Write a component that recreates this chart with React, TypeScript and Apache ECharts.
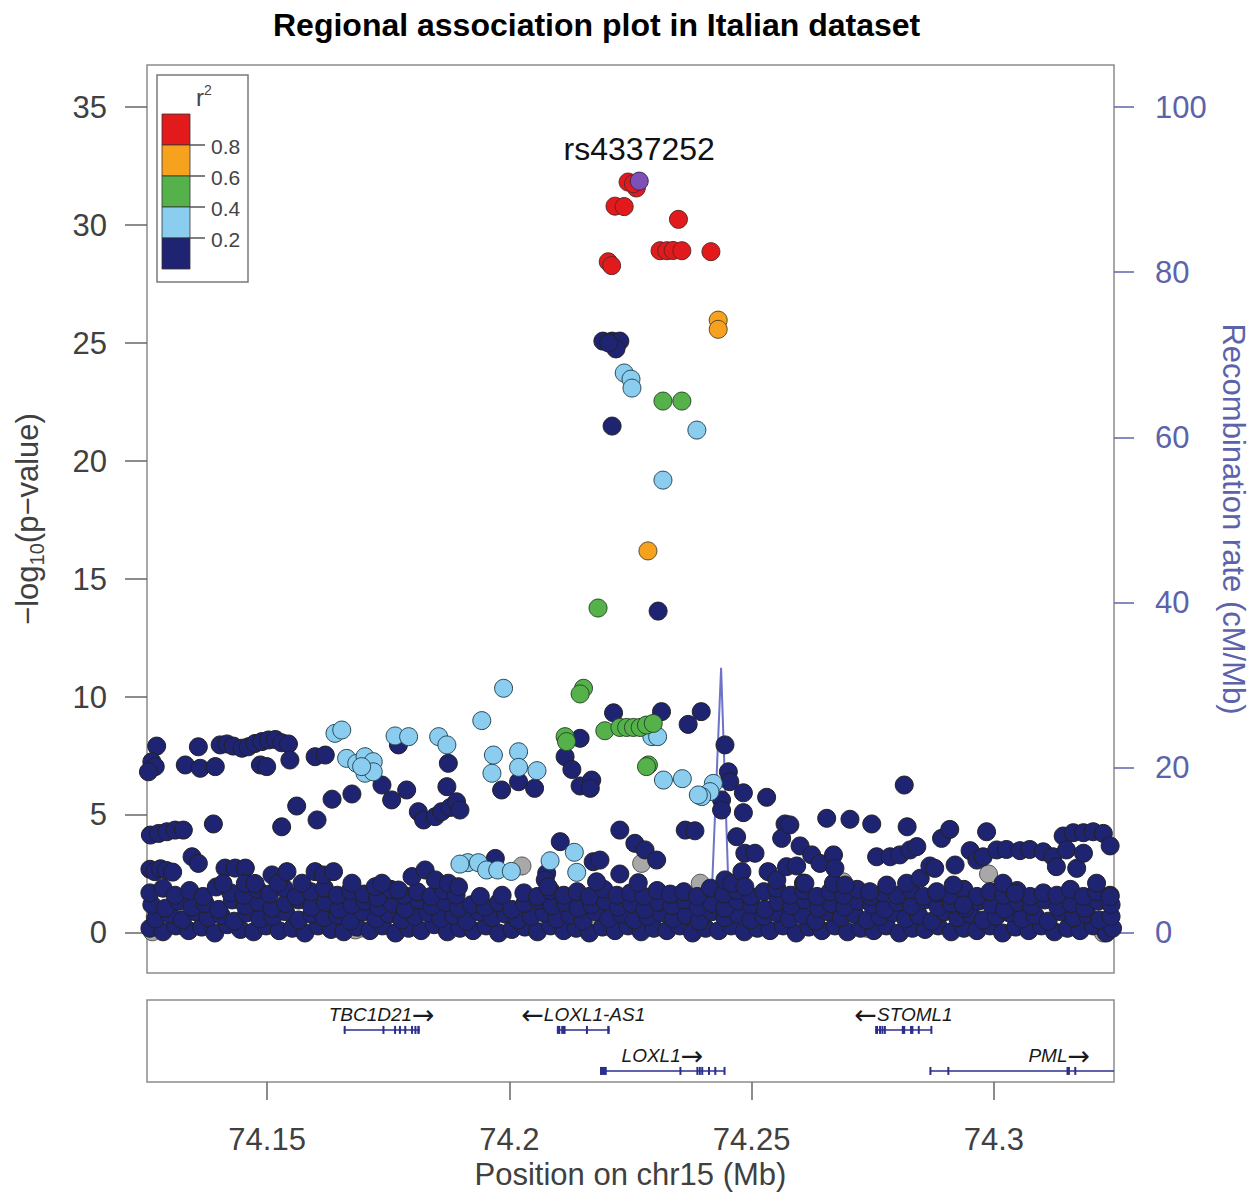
import React, { useEffect, useRef } from "react";
import * as echarts from "echarts";

const FONT = "'Liberation Sans', Arial, Helvetica, sans-serif";

// ---------- axis ticks ----------
const xTicks = [74.15, 74.2, 74.25, 74.3];
const pTicks = [0, 5, 10, 15, 20, 25, 30, 35];
const recTicks = [0, 20, 40, 60, 80, 100];

// ---------- LD legend ----------
const ldColors = ["#1E2372", "#8BCDEF", "#55B24A", "#F6A21E", "#E31A1C"]; // r2 low -> high
const ldBreaks = ["0.2", "0.4", "0.6", "0.8"];
const grayColor = "#A8A8A8";
const leadColor = "#7E4FB5";

// ---------- SNPs: [position (Mb), -log10 p] ----------
const leadSnp = [[74.2268, 31.86]];
const leadName = "rs4337252";

const redPts = [
  [74.2245, 31.82], [74.2262, 31.57], [74.2256, 31.75],
  [74.2218, 30.8], [74.2237, 30.78], [74.2349, 30.24],
  [74.2311, 28.91], [74.2325, 28.91], [74.2338, 28.92], [74.2356, 28.91],
  [74.2416, 28.87], [74.2204, 28.44], [74.2211, 28.28],
];

const orangePts = [[74.2431, 25.97], [74.2431, 25.58], [74.2286, 16.19]];

const greenPts = [
  [74.2317, 22.54], [74.2356, 22.54], [74.2183, 13.77], [74.2153, 10.37], [74.2146, 10.13],
  [74.2197, 8.57], [74.2228, 8.71], [74.2242, 8.71], [74.2256, 8.71], [74.227, 8.71],
  [74.2283, 8.81], [74.2297, 8.88], [74.2115, 8.32], [74.2118, 8.11], [74.2287, 7.12], [74.2283, 7.05],
];

const lightBluePts = [
  [74.2237, 23.73], [74.2251, 23.47], [74.2253, 23.09], [74.2387, 21.31], [74.2317, 19.19],
  [74.1988, 10.37], [74.1943, 9.0], [74.2294, 8.32], [74.2306, 8.32], [74.2318, 6.48],
  [74.2357, 6.54], [74.2421, 6.34], [74.2414, 5.99], [74.2397, 5.78], [74.239, 5.85],
  [74.1964, 6.77], [74.2019, 7.68], [74.2019, 7.02], [74.2057, 6.88], [74.1967, 7.54],
  [74.1914, 2.98], [74.1936, 2.98], [74.1953, 2.67], [74.1976, 2.67], [74.2004, 2.61],
  [74.2084, 3.06], [74.2134, 3.42], [74.2139, 2.57], [74.164, 8.46], [74.1654, 8.6],
  [74.1664, 7.4], [74.1685, 7.19], [74.1702, 7.47], [74.1719, 7.26], [74.1702, 6.77],
  [74.1719, 6.83], [74.1695, 7.05], [74.1764, 8.35], [74.1792, 8.32], [74.1854, 8.32],
  [74.1871, 7.97], [74.1898, 2.92],
];

const grayPts = [
  [74.1263, 0.05], [74.1269, 0.68], [74.132, 1.27], [74.1682, 0.13], [74.1695, 0.21],
  [74.2167, 0.34], [74.2232, 0.97], [74.2074, 0.55], [74.2738, 0.2], [74.3061, 0.41],
  [74.3157, 0.27], [74.3226, 0.0], [74.2026, 2.84], [74.2273, 2.95], [74.2394, 2.11],
  [74.2989, 2.5], [74.2689, 2.17], [74.259, 1.61],
];

const navyUpper = [
  [74.2193, 25.08], [74.2212, 25.08], [74.2228, 25.08], [74.222, 24.75], [74.2205, 25.0],
  [74.2212, 21.48], [74.2307, 13.64],
  [74.2215, 9.33], [74.2314, 9.38], [74.2396, 9.38], [74.2369, 8.84], [74.2146, 8.25],
  [74.2115, 7.47], [74.2129, 6.93], [74.2146, 6.23], [74.217, 6.48], [74.2167, 6.13],
  [74.2445, 7.97], [74.2452, 6.83], [74.2455, 6.41], [74.2438, 5.64], [74.2438, 5.21],
  [74.2483, 5.94], [74.2483, 5.1], [74.2531, 5.75],
  [74.2228, 4.36], [74.2363, 4.36], [74.2383, 4.33],
  [74.1984, 6.06], [74.2019, 6.41], [74.2052, 6.13],
  [74.1971, 3.16], [74.2105, 3.87], [74.2259, 3.8], [74.228, 3.52], [74.2304, 3.09],
  [74.2173, 3.02], [74.2187, 3.09], [74.2228, 2.5],
  [74.2469, 4.08], [74.2486, 3.38], [74.2507, 3.38], [74.2569, 4.62], [74.2562, 4.01],
  [74.1272, 7.92], [74.1262, 7.26], [74.1269, 7.05], [74.1255, 6.83], [74.1358, 7.89],
  [74.1331, 7.12], [74.1362, 6.98], [74.1393, 7.05],
  [74.1403, 7.97], [74.1417, 8.01], [74.143, 7.92], [74.1448, 7.83], [74.1461, 7.89],
  [74.1475, 8.03], [74.1489, 8.11], [74.1503, 8.18], [74.1517, 8.2], [74.153, 8.06], [74.1544, 8.01],
  [74.1486, 7.12], [74.1499, 7.05], [74.1547, 7.33], [74.1599, 7.47], [74.162, 7.54],
  [74.1771, 7.97], [74.1874, 7.19], [74.1871, 6.2], [74.1737, 6.27], [74.1757, 5.64],
  [74.1788, 6.06], [74.1675, 5.89], [74.1634, 5.67],
  [74.1561, 5.38], [74.153, 4.5], [74.1603, 4.79], [74.1389, 4.62],
  [74.1259, 4.15], [74.1276, 4.22], [74.1293, 4.29], [74.131, 4.36], [74.1327, 4.36],
  [74.1812, 5.14], [74.1823, 4.79], [74.1847, 4.93], [74.186, 5.14], [74.1878, 5.32],
  [74.1891, 5.56], [74.1898, 5.21],
  [74.2815, 6.27], [74.2655, 4.86], [74.2703, 4.82], [74.2748, 4.62], [74.2821, 4.5],
  [74.2892, 4.01], [74.2909, 4.39], [74.2985, 4.29],
  [74.3143, 4.11], [74.3164, 4.25], [74.3185, 4.25], [74.3205, 4.29], [74.3226, 4.22], [74.324, 3.69],
  [74.2579, 4.58], [74.26, 3.69], [74.2624, 3.31], [74.2641, 2.95], [74.2669, 3.31], [74.2672, 2.74],
  [74.2758, 3.23], [74.2786, 3.23], [74.2806, 3.31], [74.2827, 3.52], [74.2841, 3.66],
  [74.2868, 2.84], [74.2878, 2.74], [74.292, 2.88], [74.2951, 3.49], [74.2965, 3.09],
  [74.2978, 3.23], [74.3006, 3.52], [74.3026, 3.54], [74.3054, 3.49], [74.3074, 3.54],
  [74.3102, 3.44], [74.3122, 3.23], [74.3129, 2.81], [74.315, 3.52], [74.3171, 2.74], [74.3185, 3.38],
];

const navyLow = [
  [74.2077, 2.53], [74.2074, 2.25], [74.208, 1.96], [74.218, 2.17], [74.2266, 2.13],
  [74.2445, 2.25], [74.2459, 2.11], [74.248, 2.6], [74.2486, 1.96], [74.2534, 2.6],
  [74.2552, 2.25], [74.2572, 2.81],
  [74.2607, 2.11], [74.2669, 2.11], [74.2693, 2.03], [74.2744, 1.75], [74.2779, 2.03],
  [74.282, 2.11], [74.2848, 2.32], [74.2882, 1.75], [74.2916, 2.03], [74.2937, 1.19],
  [74.3019, 2.11], [74.3044, 1.68], [74.3212, 2.11], [74.324, 1.54], [74.2593, 2.84], [74.261, 2.11],
  [74.1258, 2.7], [74.1268, 2.6], [74.128, 2.72], [74.1292, 2.65], [74.1305, 2.58],
  [74.1345, 3.23], [74.1358, 2.95], [74.1413, 2.75], [74.1434, 2.75], [74.1455, 2.75],
  [74.1409, 2.1], [74.1455, 2.1], [74.1475, 2.1], [74.151, 2.46], [74.1523, 2.11], [74.1541, 2.6],
  [74.1572, 2.11], [74.1599, 2.6], [74.1616, 2.46], [74.1637, 2.6],
  [74.1675, 2.11], [74.1723, 1.96], [74.1737, 2.11], [74.1771, 1.82], [74.1799, 2.39],
  [74.1826, 2.67], [74.1847, 2.25], [74.1874, 2.11], [74.1895, 1.96],
];

const navyBandA = [
  [74.1258, 0.2], [74.1285, 0.05], [74.1312, 0.3], [74.1338, 0.1], [74.1365, 0.25], [74.1392, 0.0],
  [74.1418, 0.35], [74.1445, 0.15], [74.1472, 0.05], [74.1498, 0.3], [74.1525, 0.1], [74.1552, 0.2],
  [74.1578, 0.0], [74.1605, 0.3], [74.1632, 0.15], [74.1658, 0.05], [74.1685, 0.25], [74.1712, 0.1],
  [74.1738, 0.3], [74.1765, 0.0], [74.1792, 0.2], [74.1818, 0.1], [74.1845, 0.35], [74.1872, 0.05],
  [74.1898, 0.2], [74.1925, 0.1], [74.1952, 0.3], [74.1978, 0.0], [74.2005, 0.15], [74.2032, 0.25],
  [74.2058, 0.05], [74.2085, 0.3], [74.2112, 0.1], [74.2138, 0.2], [74.2165, 0.0], [74.2192, 0.25],
  [74.2218, 0.1], [74.2245, 0.3], [74.2272, 0.05], [74.2298, 0.2], [74.2325, 0.1], [74.2352, 0.3],
  [74.2378, 0.0], [74.2405, 0.2], [74.2432, 0.1], [74.2458, 0.3], [74.2485, 0.05], [74.2512, 0.2],
  [74.2538, 0.1], [74.2565, 0.3], [74.2592, 0.0], [74.2618, 0.25], [74.2645, 0.1], [74.2672, 0.3],
  [74.2698, 0.05], [74.2725, 0.2], [74.2752, 0.1], [74.2778, 0.3], [74.2805, 0.0], [74.2832, 0.2],
  [74.2858, 0.15], [74.2885, 0.3], [74.2912, 0.05], [74.2938, 0.2], [74.2965, 0.1], [74.2992, 0.3],
  [74.3018, 0.0], [74.3045, 0.25], [74.3072, 0.1], [74.3098, 0.3], [74.3125, 0.05], [74.3152, 0.2],
  [74.3178, 0.1], [74.3205, 0.3], [74.3232, 0.0], [74.3245, 0.2],
];

const navyBandB = [
  [74.127, 0.6], [74.1298, 0.8], [74.1325, 0.55], [74.1352, 0.9], [74.1378, 0.65], [74.1405, 0.75],
  [74.1432, 0.5], [74.1458, 0.85], [74.1485, 0.6], [74.1512, 0.7], [74.1538, 0.9], [74.1565, 0.55],
  [74.1592, 0.8], [74.1618, 0.65], [74.1645, 0.75], [74.1672, 0.5], [74.1698, 0.9], [74.1725, 0.6],
  [74.1752, 0.8], [74.1778, 0.55], [74.1805, 0.7], [74.1832, 0.85], [74.1858, 0.6], [74.1885, 0.75],
  [74.1912, 0.5], [74.1938, 0.9], [74.1965, 0.65], [74.1992, 0.8], [74.2018, 0.55], [74.2045, 0.7],
  [74.2072, 0.85], [74.2098, 0.6], [74.2125, 0.75], [74.2152, 0.5], [74.2178, 0.9], [74.2205, 0.6],
  [74.2232, 0.8], [74.2258, 0.55], [74.2285, 0.7], [74.2312, 0.85], [74.2338, 0.6], [74.2365, 0.75],
  [74.2392, 0.5], [74.2418, 0.9], [74.2445, 0.65], [74.2472, 0.8], [74.2498, 0.55], [74.2525, 0.7],
  [74.2552, 0.85], [74.2578, 0.6], [74.2605, 0.75], [74.2632, 0.5], [74.2658, 0.9], [74.2685, 0.65],
  [74.2712, 0.8], [74.2738, 0.55], [74.2765, 0.7], [74.2792, 0.85], [74.2818, 0.6], [74.2845, 0.75],
  [74.2872, 0.5], [74.2898, 0.9], [74.2925, 0.65], [74.2952, 0.8], [74.2978, 0.55], [74.3005, 0.7],
  [74.3032, 0.85], [74.3058, 0.6], [74.3085, 0.75], [74.3112, 0.5], [74.3138, 0.9], [74.3165, 0.65],
  [74.3192, 0.8], [74.3218, 0.55], [74.3242, 0.7],
];

const navyBandC = [
  [74.1262, 1.2], [74.129, 1.05], [74.1318, 1.35], [74.1345, 1.1], [74.1372, 1.25], [74.14, 1.0],
  [74.1428, 1.4], [74.1455, 1.15], [74.1482, 1.3], [74.151, 1.05], [74.1538, 1.25], [74.1565, 1.4],
  [74.1592, 1.1], [74.162, 1.3], [74.1648, 1.0], [74.1675, 1.2], [74.1702, 1.35], [74.173, 1.1],
  [74.1758, 1.25], [74.1785, 1.0], [74.1812, 1.4], [74.184, 1.15], [74.1868, 1.3], [74.1895, 1.05],
  [74.1922, 1.2], [74.195, 1.1], [74.1978, 1.3], [74.2005, 1.0], [74.2032, 1.25], [74.206, 1.4],
  [74.2088, 1.15], [74.2115, 1.3], [74.2142, 1.05], [74.217, 1.2], [74.2198, 1.35], [74.2225, 1.1],
  [74.2252, 1.25], [74.228, 1.0], [74.2308, 1.3], [74.2335, 1.15], [74.2362, 1.4], [74.239, 1.1],
  [74.2418, 1.25], [74.2445, 1.05], [74.2472, 1.35], [74.25, 1.2], [74.2528, 1.0], [74.2555, 1.3],
  [74.2582, 1.15], [74.261, 1.4], [74.2638, 1.05], [74.2665, 1.25], [74.2692, 1.1], [74.272, 1.35],
  [74.2748, 1.2], [74.2775, 1.0], [74.2802, 1.3], [74.283, 1.15], [74.2858, 1.4], [74.2885, 1.1],
  [74.2912, 1.25], [74.294, 1.05], [74.2968, 1.35], [74.2995, 1.2], [74.3022, 1.0], [74.305, 1.3],
  [74.3078, 1.15], [74.3105, 1.4], [74.3132, 1.1], [74.316, 1.25], [74.3188, 1.05], [74.3215, 1.35],
  [74.3242, 1.2],
];

const navyBandD = [
  [74.1258, 1.7], [74.1285, 1.9], [74.131, 1.6], [74.134, 1.8], [74.1368, 1.55], [74.1395, 1.95],
  [74.1425, 1.7], [74.1452, 1.6], [74.148, 1.85], [74.1505, 1.65], [74.1535, 1.9], [74.156, 1.55],
  [74.159, 1.75], [74.1618, 1.9], [74.1645, 1.6], [74.1672, 1.8], [74.17, 1.65], [74.1728, 1.5],
  [74.1755, 1.85], [74.1782, 1.6], [74.181, 1.75], [74.1838, 1.55], [74.1865, 1.8], [74.189, 1.6],
  [74.194, 1.55], [74.1985, 1.6], [74.203, 1.7], [74.2058, 1.55], [74.2085, 1.8], [74.2112, 1.6],
  [74.214, 1.75], [74.2165, 1.55], [74.2195, 1.85], [74.2222, 1.6], [74.225, 1.7], [74.2278, 1.55],
  [74.2305, 1.8], [74.2332, 1.65], [74.236, 1.75], [74.2388, 1.55], [74.2415, 1.9], [74.2442, 1.65],
  [74.247, 1.8], [74.2498, 1.55], [74.2525, 1.75], [74.2552, 1.9], [74.258, 1.6], [74.2608, 1.8],
  [74.2635, 1.55], [74.2662, 1.75], [74.269, 1.6], [74.2718, 1.85], [74.2745, 1.55], [74.2772, 1.7],
  [74.28, 1.6], [74.2828, 1.85], [74.2855, 1.55], [74.2882, 1.7], [74.291, 1.6], [74.2938, 1.85],
  [74.2965, 1.55], [74.2992, 1.75], [74.302, 1.6], [74.3048, 1.8], [74.3075, 1.55], [74.3102, 1.7],
  [74.313, 1.6], [74.3158, 1.85], [74.3185, 1.55], [74.3212, 1.75], [74.324, 1.6],
];

// ---------- recombination rate (cM/Mb) ----------
const recombPos = [74.1252, 74.14, 74.16, 74.185, 74.2, 74.215, 74.23, 74.2405, 74.2416, 74.2437, 74.2454, 74.247, 74.26, 74.28, 74.3, 74.3248];
const recombRate = [2.0, 1.8, 2.3, 1.9, 2.4, 2.1, 1.9, 2.2, 2.3, 32.1, 2.3, 2.0, 2.2, 1.9, 2.4, 2.1];

// ---------- genes ----------
const geneNames = ["TBC1D21", "LOXL1-AS1", "LOXL1", "STOML1", "PML"];
const geneStart = [74.1658, 74.2098, 74.2187, 74.2755, 74.2868];
const geneEnd = [74.1815, 74.2207, 74.2445, 74.2872, 74.3402];
const geneStrand = ["+", "-", "+", "-", "+"];
const geneRow = [1, 1, 2, 1, 2];
const geneExons = [
  [[74.1658, 74.1661], [74.1738, 74.1741], [74.1762, 74.1765], [74.1772, 74.1775], [74.1783, 74.1787], [74.1797, 74.18], [74.1804, 74.1807], [74.181, 74.1815]],
  [[74.2098, 74.2105], [74.2107, 74.2116], [74.2158, 74.2162], [74.2202, 74.2207]],
  [[74.2187, 74.2201], [74.2351, 74.2354], [74.2386, 74.2389], [74.2391, 74.2394], [74.2396, 74.2399], [74.241, 74.2413], [74.2423, 74.2426], [74.2442, 74.2445]],
  [[74.2755, 74.2761], [74.2763, 74.2766], [74.2768, 74.2771], [74.2773, 74.2775], [74.281, 74.2817], [74.2827, 74.2834], [74.2843, 74.2846], [74.2869, 74.2872]],
  [[74.2867, 74.287], [74.2904, 74.2908], [74.315, 74.3157], [74.3166, 74.3169]],
];

const X_MIN = 74.1252;
const X_MAX = 74.3248;
const Y_MIN = -1.695;
const Y_MAX = 36.78;
const R_MIN = (Y_MIN * 100) / 35;
const R_MAX = (Y_MAX * 100) / 35;

const GENE_COLOR = "#2B2F8C";
const LEFT_COLOR = "#404040";
const RIGHT_COLOR = "#5C63AA";

function scatter(name: string, data: number[][], color: string, border = "#2a2a2a", z = 3) {
  return {
    name,
    type: "scatter",
    xAxisIndex: 0,
    yAxisIndex: 0,
    data,
    z,
    symbol: "circle",
    symbolSize: 18,
    silent: true,
    itemStyle: { color, borderColor: border, borderWidth: 1, opacity: 1 },
  };
}

export default function App() {
  const ref = useRef<HTMLDivElement>(null);
  useEffect(() => {
    const chart = echarts.init(ref.current as HTMLDivElement, null, { renderer: "svg" });
    const recombData = recombPos.map((p, i) => [p, recombRate[i]]);
    const navyAll = [...navyBandA, ...navyBandB, ...navyBandC, ...navyBandD, ...navyLow, ...navyUpper];
    const geneData = geneNames.map((_, i) => [geneStart[i], geneRow[i], i]);

    const legendEls: any[] = [
      { type: "rect", shape: { x: 157, y: 75, width: 91, height: 207 }, style: { fill: "#fff", stroke: "#7a7a7a", lineWidth: 1.5 } },
      {
        type: "text",
        x: 204,
        y: 97,
        style: {
          text: "{a|r}{b|2}",
          align: "center",
          verticalAlign: "middle",
          rich: {
            a: { fontSize: 24, fill: "#444", fontFamily: FONT },
            b: { fontSize: 14, fill: "#444", fontFamily: FONT, padding: [0, 0, 14, 0] },
          },
        },
      },
    ];
    for (let k = 0; k < 5; k++) {
      legendEls.push({
        type: "rect",
        shape: { x: 162, y: 114 + k * 31, width: 28, height: 31 },
        style: { fill: ldColors[4 - k], stroke: "#333", lineWidth: 0.8 },
      });
    }
    for (let k = 0; k < 4; k++) {
      legendEls.push({ type: "line", shape: { x1: 190, y1: 145 + k * 31, x2: 205, y2: 145 + k * 31 }, style: { stroke: "#555", lineWidth: 1.5 } });
      legendEls.push({
        type: "text",
        x: 211,
        y: 146 + k * 31,
        style: { text: ldBreaks[3 - k], fill: "#444", font: `21px ${FONT}`, align: "left", verticalAlign: "middle" },
      });
    }

    const option: any = {
      animation: false,
      backgroundColor: "#ffffff",
      title: {
        text: "Regional association plot in Italian dataset",
        left: 268,
        top: 4,
        textStyle: { fontSize: 32, fontWeight: "bold", color: "#000", fontFamily: FONT },
      },
      grid: [
        { left: 147, top: 65, width: 967, height: 908, show: true, borderColor: "#8c8c8c", borderWidth: 1.5, backgroundColor: "transparent" },
        { left: 147, top: 1000, width: 967, height: 82, show: true, borderColor: "#8c8c8c", borderWidth: 1.5, backgroundColor: "transparent" },
      ],
      xAxis: [
        { type: "value", gridIndex: 0, min: X_MIN, max: X_MAX, show: false },
        {
          type: "value",
          gridIndex: 1,
          min: X_MIN,
          max: X_MAX,
          position: "bottom",
          axisLine: { show: false },
          splitLine: { show: false },
          axisTick: { show: true, customValues: xTicks, length: 18, lineStyle: { color: "#666", width: 1.5 } },
          axisLabel: { show: true, customValues: xTicks, margin: 42, fontSize: 31, color: LEFT_COLOR, fontFamily: FONT },
          name: "Position on chr15 (Mb)",
          nameLocation: "middle",
          nameGap: 77,
          nameTextStyle: { fontSize: 31, color: LEFT_COLOR, fontFamily: FONT },
        },
      ],
      yAxis: [
        {
          type: "value",
          gridIndex: 0,
          min: Y_MIN,
          max: Y_MAX,
          position: "left",
          axisLine: { show: false },
          splitLine: { show: false },
          axisTick: { show: true, customValues: pTicks, length: 22, lineStyle: { color: "#666", width: 1.5 } },
          axisLabel: { show: true, customValues: pTicks, margin: 40, fontSize: 31, color: LEFT_COLOR, fontFamily: FONT },
          name: "{a|−log}{b|10}{a|(p−value)}",
          nameLocation: "middle",
          nameRotate: 90,
          nameGap: 100,
          nameTextStyle: {
            rich: {
              a: { fontSize: 31, color: LEFT_COLOR, fontFamily: FONT },
              b: { fontSize: 20, color: LEFT_COLOR, fontFamily: FONT, padding: [20, 0, 0, 0] },
            },
          },
        },
        {
          type: "value",
          gridIndex: 0,
          min: R_MIN,
          max: R_MAX,
          position: "right",
          axisLine: { show: false },
          splitLine: { show: false },
          axisTick: { show: true, customValues: recTicks, length: 20, lineStyle: { color: RIGHT_COLOR, width: 1.5 } },
          axisLabel: { show: true, customValues: recTicks, margin: 41, fontSize: 31, color: RIGHT_COLOR, fontFamily: FONT },
          name: "Recombination rate (cM/Mb)",
          nameLocation: "middle",
          nameRotate: -90,
          nameGap: 103,
          nameTextStyle: { fontSize: 31, color: RIGHT_COLOR, fontFamily: FONT },
        },
        { type: "value", gridIndex: 1, min: 0.27, max: 2.27, inverse: true, show: false },
      ],
      graphic: legendEls,
      series: [
        {
          name: "Recombination rate",
          type: "line",
          xAxisIndex: 0,
          yAxisIndex: 1,
          data: recombData,
          z: 1,
          showSymbol: false,
          symbol: "none",
          silent: true,
          lineStyle: { color: "#6D74C8", width: 2 },
        },
        scatter("r2 NA", grayPts, grayColor, "#555", 3),
        scatter("r2 < 0.2", navyAll, ldColors[0], "#222", 4),
        scatter("r2 0.2-0.4", lightBluePts, ldColors[1], "#2a4a5a", 5),
        scatter("r2 0.4-0.6", greenPts, ldColors[2], "#2a4a2a", 6),
        scatter("r2 0.6-0.8", orangePts, ldColors[3], "#5a4a2a", 7),
        scatter("r2 > 0.8", redPts, ldColors[4], "#5a2a2a", 8),
        {
          ...scatter("lead SNP", leadSnp, leadColor, "#3a2a5a", 9),
          label: {
            show: true,
            formatter: leadName,
            position: "top",
            distance: 7,
            fontSize: 32,
            color: "#111",
            fontFamily: FONT,
          },
        },
        {
          name: "genes",
          type: "custom",
          xAxisIndex: 1,
          yAxisIndex: 2,
          data: geneData,
          silent: true,
          clip: true,
          renderItem: (params: any, api: any) => {
            const i = api.value(2);
            const r = geneRow[i];
            const cs = params.coordSys;
            const xLo = cs.x;
            const xHi = cs.x + cs.width;
            const p1 = api.coord([geneStart[i], r]);
            const p2 = api.coord([geneEnd[i], r]);
            const y = p1[1];
            const children: any[] = [
              {
                type: "line",
                shape: { x1: Math.max(p1[0], xLo), y1: y, x2: Math.min(p2[0], xHi), y2: y },
                style: { stroke: GENE_COLOR, lineWidth: 1.5 },
              },
            ];
            geneExons[i].forEach((ex: number[]) => {
              const a = api.coord([ex[0], r]);
              const b = api.coord([ex[1], r]);
              children.push({
                type: "rect",
                shape: { x: a[0], y: y - 4, width: Math.max(b[0] - a[0], 2), height: 8 },
                style: { fill: GENE_COLOR },
              });
            });
            const label = geneStrand[i] === "+" ? `{n|${geneNames[i]}}{r|→}` : `{r|←}{n|${geneNames[i]}}`;
            children.push({
              type: "text",
              x: (p1[0] + p2[0]) / 2,
              y: y - 15,
              style: {
                text: label,
                align: "center",
                verticalAlign: "middle",
                rich: {
                  n: { fontSize: 19, fontStyle: "italic", fill: "#1a1a1a", fontFamily: FONT },
                  r: { fontSize: 27, fill: "#1a1a1a", fontFamily: "'DejaVu Sans', sans-serif" },
                },
              },
            });
            return { type: "group", children };
          },
        },
      ],
    };
    chart.setOption(option);
    return () => chart.dispose();
  }, []);
  return (
    <div
      ref={ref}
      style={{ position: "absolute", left: 0, top: 0, width: 1259, height: 1193, background: "#fff" }}
    />
  );
}
